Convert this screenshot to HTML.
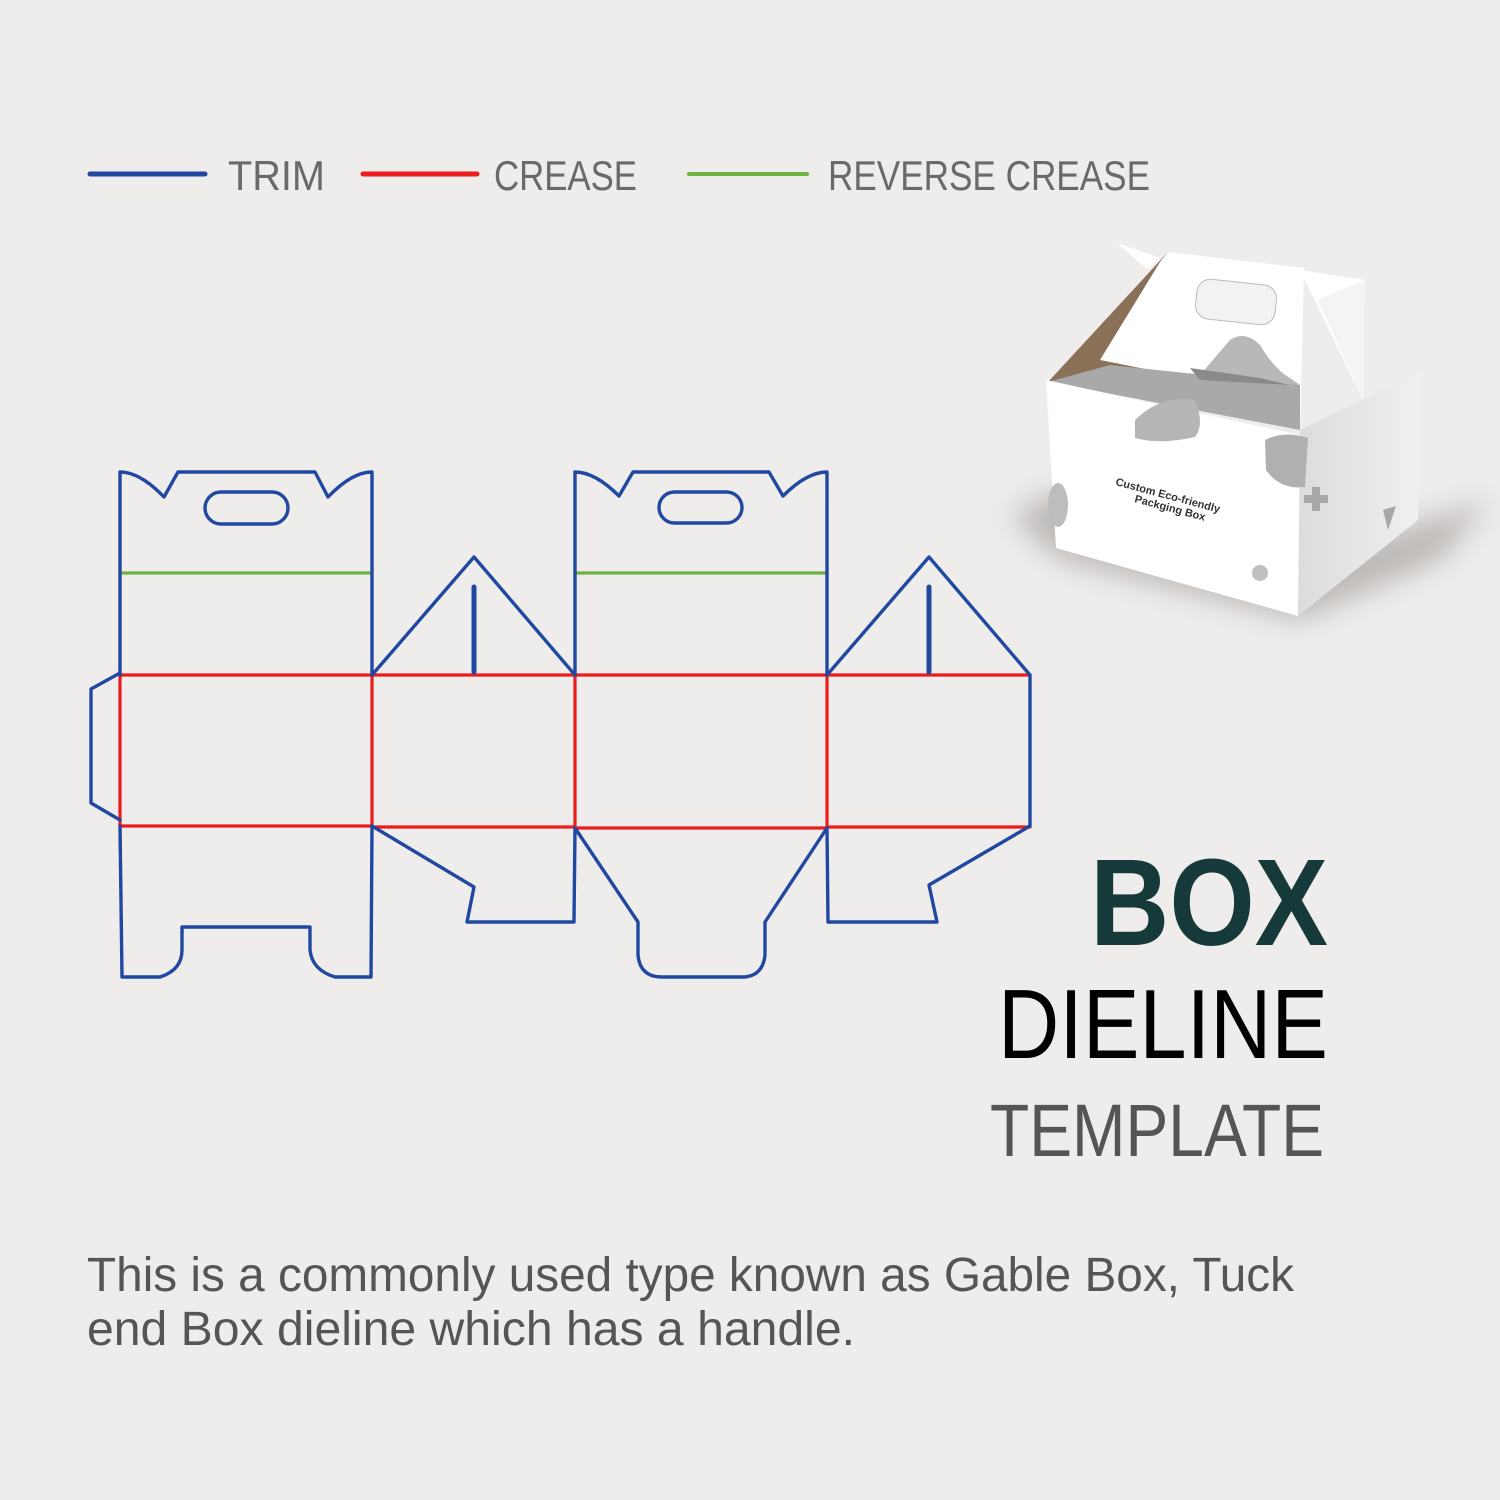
<!DOCTYPE html>
<html><head><meta charset="utf-8"><style>
html,body{margin:0;padding:0;background:#efedeb;}
svg{display:block;}
text{font-family:"Liberation Sans",sans-serif;}
</style></head><body>
<svg width="1500" height="1500" viewBox="0 0 1500 1500" xmlns="http://www.w3.org/2000/svg">
<rect width="1500" height="1500" fill="#efedeb"/>
<defs>
<filter id="blur" x="-50%" y="-50%" width="200%" height="200%"><feGaussianBlur stdDeviation="14"/></filter>
<linearGradient id="side" x1="0" y1="0" x2="1" y2="0"><stop offset="0" stop-color="#dcdcdc"/><stop offset="1" stop-color="#f0f0f0"/></linearGradient>
</defs>
<!-- legend -->
<line x1="90" y1="174" x2="205" y2="174" stroke="#2148a0" stroke-width="5" stroke-linecap="round"/>
<text x="228" y="190" font-size="42" fill="#6a6a6a" textLength="97" lengthAdjust="spacingAndGlyphs">TRIM</text>
<line x1="363" y1="174" x2="477" y2="174" stroke="#ec1c1c" stroke-width="5" stroke-linecap="round"/>
<text x="494" y="190" font-size="42" fill="#6a6a6a" textLength="143" lengthAdjust="spacingAndGlyphs">CREASE</text>
<line x1="689" y1="174" x2="807" y2="174" stroke="#6cb33f" stroke-width="4" stroke-linecap="round"/>
<text x="828" y="190" font-size="42" fill="#6a6a6a" textLength="322" lengthAdjust="spacingAndGlyphs">REVERSE CREASE</text>

<!-- dieline -->
<g fill="none" stroke-linejoin="round" stroke-linecap="round">
<g stroke="#ec1c1c" stroke-width="3.2">
<line x1="120" y1="675" x2="1030" y2="675"/>
<line x1="120" y1="826" x2="372" y2="826"/>
<line x1="372" y1="827" x2="575" y2="827"/>
<line x1="575" y1="828" x2="827" y2="828"/>
<line x1="827" y1="827" x2="1030" y2="827"/>
<line x1="120" y1="675" x2="120" y2="826"/>
<line x1="372" y1="675" x2="372" y2="826"/>
<line x1="575" y1="675" x2="575" y2="828"/>
<line x1="827" y1="675" x2="827" y2="828"/>
</g>
<g stroke="#6cb33f" stroke-width="3.2">
<line x1="121" y1="573" x2="370" y2="573"/>
<line x1="577" y1="573" x2="825" y2="573"/>
</g>
<g stroke="#2148a0" stroke-width="3.4">
<path d="M120 675 L120 472 Q140 472 164 497 L178 472 L315 472 L328 497 Q352 472 372 472 L372 675"/>
<rect x="205" y="492" width="83" height="32" rx="16"/>
<path d="M120 673 L91 689 L91 803 L120 820"/>
<path d="M120 826 L122 977 L160 977 Q182 970 182 950 L182 927 L310 927 L310 950 Q312 970 335 977 L371 977 L372 826"/>
<path d="M372 675 L474 557 L575 675"/>
<line x1="474" y1="587" x2="474" y2="672" stroke-width="5"/>
<path d="M372 826 L474 887 L467 922 L574 922 L575 828"/>
<path d="M575 675 L575 472 Q595 472 619 496 L633 472 L769 472 L783 496 Q807 472 827 472 L827 675"/>
<rect x="659" y="492" width="83" height="31" rx="15.5"/>
<path d="M575 828 L638 922 L638 955 Q640 977 662 977 L745 977 Q763 975 765 955 L765 922 L827 828"/>
<path d="M827 675 L929 557 L1030 675 L1030 826 L929 885 L937 922 L828 922 L827 828"/>
<line x1="929" y1="587" x2="929" y2="672" stroke-width="5"/>
</g>
</g>

<!-- box illustration -->
<g>
<path d="M1010 515 L1060 490 L1300 560 L1490 500 L1440 560 L1300 620 L1060 560 Z" fill="#9a9694" opacity="0.6" filter="url(#blur)"/>
<path d="M1300 430 L1420 372 L1418 520 L1298 616 Z" fill="url(#side)"/>
<path d="M1300 270 L1365 280 L1363 400 Z" fill="#ffffff"/>
<path d="M1318 300 L1365 280 L1363 400 Z" fill="#f4f4f4"/>
<path d="M1117 243 L1148 270 L1160 258 Z" fill="#ffffff"/>
<!-- handle panel -->
<path d="M1168 252 L1304 268 L1300 430 L1048 382 Z" fill="#ffffff"/>
<path d="M1048 382 L1168 252 L1160 262 L1100 360 L1150 370 Z" fill="#8a7057"/>
<path d="M1048 382 L1110 365 L1300 385 L1300 430 Z" fill="#a9a9a9"/>
<path d="M1230 340 Q1245 330 1260 345 Q1275 370 1290 378 L1300 385 L1200 375 Z" fill="#b8b8b8"/>
<path d="M1190 368 L1260 378 L1290 385 L1200 380 Z" fill="#8a8a8a"/>
<rect x="1196" y="282" width="80" height="40" rx="14" fill="#f2f2f2" stroke="#bbb" stroke-width="1" transform="rotate(6 1236 302)"/>
<!-- front face -->
<path d="M1046 380 L1300 435 L1298 616 L1056 548 Z" fill="#ffffff"/>
<path d="M1135 420 Q1160 395 1195 400 Q1205 425 1195 437 Q1160 445 1135 438 Z" fill="#b5b5b5"/>
<path d="M1265 440 Q1285 430 1308 438 L1305 487 Q1280 490 1266 470 Z" fill="#b0b0b0"/>
<ellipse cx="1058" cy="505" rx="10" ry="22" fill="#bdbdbd"/>
<circle cx="1260" cy="573" r="8" fill="#c0c0c0"/>
<path d="M1312 487 h8 v8 h8 v8 h-8 v8 h-8 v-8 h-8 v-8 h8 z" fill="#a8a8a8"/>
<path d="M1383 510 L1396 506 L1388 530 Z" fill="#a8a8a8"/>
<text x="1115" y="485" font-size="11" font-weight="bold" fill="#333" transform="rotate(15 1115 485)">Custom Eco-friendly</text>
<text x="1134" y="502" font-size="11" font-weight="bold" fill="#333" transform="rotate(15 1134 502)">Packging Box</text>
</g>

<!-- title -->
<text x="1090" y="945" font-size="123" font-weight="bold" fill="#163a3a" textLength="238" lengthAdjust="spacingAndGlyphs">BOX</text>
<text x="998" y="1058" font-size="98" fill="#000" textLength="330" lengthAdjust="spacingAndGlyphs">DIELINE</text>
<text x="990" y="1156" font-size="74" fill="#555" textLength="334" lengthAdjust="spacingAndGlyphs">TEMPLATE</text>

<text x="87" y="1291" font-size="48" fill="#555" textLength="1207" lengthAdjust="spacingAndGlyphs">This is a commonly used type known as Gable Box, Tuck</text>
<text x="87" y="1345" font-size="48" fill="#555" textLength="768" lengthAdjust="spacingAndGlyphs">end Box dieline which has a handle.</text>
</svg>
</body></html>
